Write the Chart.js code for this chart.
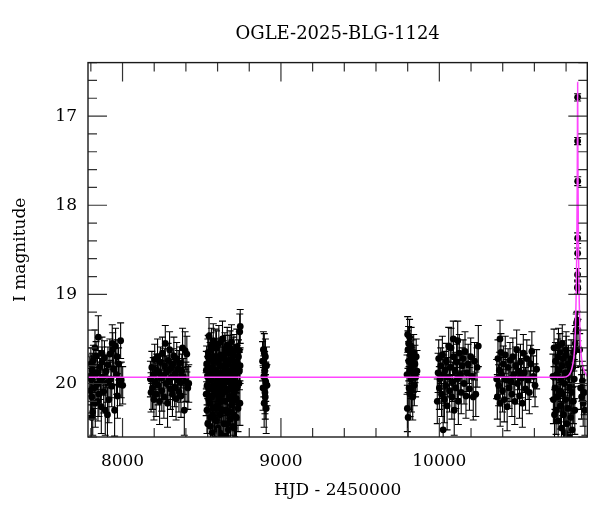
<!DOCTYPE html>
<html><head><meta charset="utf-8">
<script src="https://cdn.jsdelivr.net/npm/chart.js@4.4.0/dist/chart.umd.min.js"></script>
<style>html,body{margin:0;padding:0;background:#fff}#wrap{width:600px;height:512px}</style>
</head><body><div id="wrap"><canvas id="c" width="600" height="512"></canvas></div>
<script>
const titleText = 'OGLE-2025-BLG-1124';
const xAxisTitle = 'HJD - 2450000';
const yAxisTitle = 'I magnitude';
const xTickLabels = [8000, 9000, 10000];
const yTickLabels = [17, 18, 19, 20];
const xMinorTicks = [7800,8000,8200,8400,8600,8800,9000,9200,9400,9600,9800,10000,10200,10400,10600,10800];
const yMinorTicks = [16.4,16.6,16.8,17,17.2,17.4,17.6,17.8,18,18.2,18.4,18.6,18.8,19,19.2,19.4,19.6,19.8,20,20.2,20.4,20.6];
const xRange = [7782, 10934];
const yRange = [16.4, 20.6];

// [HJD-2450000, I mag, error]
const season1 = [[7793,19.92,0.22],[7797,20.08,0.25],[7800,19.78,0.18],[7803,19.96,0.28],[7805,20.38,0.28],[7806,20.15,0.21],[7809,19.85,0.19],[7812,20.32,0.26],[7816,19.74,0.17],[7820,20.05,0.23],[7824,19.90,0.20],[7826,19.60,0.20],[7828,20.22,0.27],[7833,19.69,0.16],[7838,20.01,0.22],[7842,19.88,0.19],[7845,20.20,0.22],[7847,19.48,0.24],[7851,20.12,0.25],[7856,19.81,0.18],[7861,19.97,0.21],[7866,20.26,0.30],[7870,19.66,0.18],[7871,19.76,0.17],[7876,19.93,0.20],[7881,20.09,0.24],[7886,19.71,0.19],[7891,20.30,0.28],[7897,19.86,0.18],[7902,19.99,0.22],[7905,20.35,0.30],[7908,19.79,0.20],[7914,20.18,0.26],[7920,19.67,0.17],[7926,19.95,0.21],[7932,20.03,0.23],[7935,19.55,0.21],[7938,19.62,0.19],[7944,19.84,0.18],[7950,20.30,0.29],[7956,19.58,0.20],[7962,19.90,0.22],[7965,19.70,0.19],[7968,20.14,0.25],[7975,19.78,0.18],[7983,20.01,0.24],[7988,19.52,0.20],[7992,19.96,0.20],[8001,20.02,0.21]];
const season2 = [[8176,19.95,0.20],[8180,20.10,0.22],[8185,19.82,0.18],[8189,20.05,0.24],[8194,19.90,0.19],[8198,20.18,0.23],[8203,19.73,0.17],[8207,19.98,0.21],[8212,20.12,0.25],[8216,19.85,0.18],[8221,19.70,0.20],[8225,20.02,0.22],[8230,19.88,0.19],[8234,20.20,0.26],[8239,19.76,0.17],[8243,19.94,0.20],[8248,20.08,0.23],[8252,19.66,0.18],[8257,19.91,0.21],[8261,20.15,0.24],[8266,19.80,0.19],[8270,19.55,0.20],[8275,20.00,0.22],[8279,19.87,0.18],[8284,20.22,0.27],[8288,19.74,0.19],[8293,19.97,0.21],[8297,19.62,0.20],[8302,20.06,0.23],[8306,19.83,0.18],[8311,19.93,0.20],[8315,20.12,0.25],[8320,19.78,0.17],[8324,19.69,0.21],[8329,20.04,0.22],[8333,19.89,0.19],[8338,20.17,0.24],[8342,19.72,0.18],[8347,19.96,0.20],[8351,19.84,0.21],[8356,20.09,0.23],[8360,19.77,0.18],[8365,19.99,0.22],[8369,20.14,0.24],[8374,19.86,0.19],[8379,19.60,0.22],[8384,19.92,0.20],[8390,20.30,0.28],[8395,19.63,0.21],[8400,19.98,0.22],[8406,19.67,0.20],[8412,20.05,0.24],[8418,20.00,0.21]];
const season3 = [[8528,20.12,0.24],[8531,19.78,0.20],[8533,20.30,0.26],[8536,19.92,0.22],[8538,20.45,0.28],[8541,19.65,0.19],[8543,20.05,0.23],[8546,19.47,0.21],[8548,19.88,0.20],[8551,20.22,0.25],[8553,19.73,0.19],[8556,20.38,0.27],[8558,19.96,0.22],[8561,19.58,0.20],[8563,20.15,0.24],[8566,20.55,0.30],[8568,19.82,0.21],[8571,20.02,0.22],[8573,19.52,0.19],[8576,20.28,0.26],[8578,19.90,0.21],[8581,20.62,0.30],[8583,19.70,0.20],[8586,20.10,0.23],[8588,19.85,0.22],[8591,20.42,0.28],[8593,19.60,0.19],[8596,19.98,0.22],[8598,20.25,0.25],[8601,19.76,0.20],[8603,20.50,0.29],[8606,19.93,0.21],[8608,19.55,0.20],[8611,20.18,0.24],[8613,19.80,0.21],[8616,20.35,0.27],[8618,20.05,0.22],[8621,19.68,0.19],[8623,20.58,0.30],[8626,19.88,0.21],[8628,20.12,0.24],[8631,19.50,0.20],[8633,20.30,0.26],[8636,19.95,0.22],[8638,19.72,0.20],[8641,20.45,0.28],[8643,20.00,0.22],[8646,19.62,0.19],[8648,20.20,0.25],[8651,19.84,0.21],[8653,20.60,0.30],[8656,19.90,0.22],[8658,20.08,0.23],[8661,19.57,0.20],[8663,20.33,0.27],[8666,19.78,0.21],[8668,20.52,0.29],[8671,19.97,0.22],[8673,19.66,0.20],[8676,20.15,0.24],[8678,19.86,0.21],[8681,20.40,0.27],[8683,19.74,0.20],[8686,20.03,0.22],[8688,19.53,0.19],[8691,20.24,0.25],[8693,19.92,0.21],[8696,20.48,0.28],[8698,19.81,0.20],[8701,20.10,0.23],[8703,19.64,0.19],[8706,20.36,0.27],[8708,19.99,0.22],[8711,19.76,0.20],[8713,20.62,0.30],[8716,19.89,0.21],[8718,20.17,0.24],[8721,19.59,0.20],[8723,20.05,0.22],[8726,19.83,0.21],[8729,20.28,0.26],[8732,19.70,0.19],[8735,20.00,0.22],[8738,19.86,0.21],[8741,20.22,0.25],[8743,19.36,0.19],[8740,19.42,0.20],[8737,19.63,0.21],[8742,19.80,0.20],
[8529,19.85,0.21],[8534,20.02,0.22],[8539,19.70,0.20],[8544,20.18,0.24],[8549,19.96,0.21],[8554,20.48,0.28],[8559,19.62,0.19],[8564,19.90,0.22],[8569,20.35,0.26],[8574,19.75,0.20],[8579,20.05,0.23],[8584,20.40,0.27],[8589,19.58,0.19],[8594,20.12,0.24],[8599,19.88,0.21],[8604,20.28,0.25],[8609,19.70,0.20],[8614,20.55,0.29],[8619,19.94,0.22],[8624,20.20,0.24],[8629,19.80,0.21],[8634,20.10,0.23],[8639,20.60,0.30],[8644,19.86,0.21],[8649,19.66,0.20],[8654,20.30,0.26],[8659,19.98,0.22],[8664,20.45,0.28],[8669,19.74,0.20],[8674,20.06,0.23],[8679,19.60,0.19],[8684,20.32,0.26],[8689,19.90,0.21],[8694,20.15,0.24],[8699,19.68,0.20],[8704,20.50,0.29],[8709,19.84,0.21],[8714,20.02,0.22],[8719,20.38,0.27],[8724,19.77,0.20]];
const season4 = [[8884,19.75,0.22],[8887,20.05,0.25],[8889,19.62,0.20],[8892,19.92,0.23],[8894,20.22,0.27],[8895,19.66,0.22],[8897,19.85,0.21],[8899,20.10,0.24],[8901,20.15,0.25],[8902,19.70,0.20],[8904,19.98,0.22],[8907,20.28,0.28],[8909,19.80,0.21],[8912,20.02,0.23]];
const season5 = [[9796,19.90,0.22],[9798,20.28,0.26],[9800,19.45,0.20],[9802,19.62,0.21],[9803,20.38,0.28],[9806,19.55,0.19],[9807,19.75,0.22],[9809,20.05,0.24],[9812,19.48,0.20],[9813,19.85,0.21],[9815,20.12,0.25],[9817,19.68,0.20],[9820,19.95,0.22],[9822,19.58,0.21],[9824,20.08,0.24],[9826,19.80,0.20],[9829,19.72,0.21],[9832,20.15,0.26],[9835,19.88,0.22],[9838,19.65,0.20],[9842,20.02,0.23],[9846,19.78,0.21],[9850,19.93,0.22],[9854,19.70,0.20],[9859,19.86,0.23]];
const season6 = [[9987,20.20,0.25],[9992,19.88,0.22],[9996,19.72,0.21],[10000,20.05,0.24],[10004,19.95,0.22],[10009,19.80,0.20],[10014,20.12,0.25],[10019,19.68,0.21],[10024,20.52,0.30],[10028,19.90,0.22],[10032,20.18,0.26],[10036,19.85,0.21],[10040,20.02,0.23],[10044,19.75,0.20],[10049,20.25,0.27],[10054,19.93,0.22],[10059,19.58,0.21],[10064,20.08,0.24],[10069,19.82,0.20],[10074,19.60,0.22],[10079,20.15,0.25],[10084,19.98,0.22],[10088,19.50,0.20],[10089,19.70,0.21],[10094,20.30,0.28],[10099,19.86,0.21],[10104,20.05,0.23],[10109,19.76,0.20],[10114,19.95,0.22],[10116,19.52,0.22],[10120,20.20,0.26],[10126,19.66,0.21],[10132,19.90,0.22],[10138,20.10,0.24],[10144,19.80,0.20],[10150,19.72,0.21],[10156,20.00,0.23],[10162,19.64,0.22],[10168,20.14,0.25],[10174,19.88,0.21],[10182,19.78,0.22],[10190,20.06,0.24],[10198,19.70,0.21],[10206,19.92,0.22],[10214,20.15,0.26],[10222,19.75,0.21],[10230,20.12,0.25],[10238,19.82,0.22],[10246,19.58,0.23]];
const season7 = [[10362,19.95,0.22],[10366,20.15,0.25],[10370,19.72,0.21],[10374,20.02,0.23],[10379,19.85,0.20],[10383,19.50,0.21],[10384,20.22,0.26],[10389,19.65,0.21],[10394,19.90,0.22],[10399,20.08,0.24],[10404,19.78,0.20],[10410,20.18,0.25],[10416,19.68,0.21],[10422,19.95,0.22],[10428,20.26,0.27],[10434,19.82,0.21],[10440,20.05,0.23],[10446,19.74,0.20],[10452,19.98,0.22],[10458,20.12,0.25],[10464,19.70,0.21],[10470,19.90,0.22],[10476,20.20,0.26],[10482,19.80,0.21],[10488,19.62,0.22],[10494,20.00,0.23],[10500,19.86,0.21],[10506,20.14,0.25],[10512,19.76,0.20],[10518,19.94,0.22],[10524,20.22,0.27],[10530,19.66,0.21],[10536,19.88,0.22],[10544,20.06,0.24],[10552,19.72,0.21],[10560,19.96,0.22],[10568,20.10,0.24],[10576,19.78,0.21],[10584,19.64,0.22],[10594,19.92,0.23],[10604,20.02,0.24],[10614,19.84,0.22]];
const season8 = [[10717,19.92,0.25],[10720,20.18,0.27],[10724,19.60,0.21],[10727,20.35,0.28],[10730,20.05,0.24],[10733,19.75,0.21],[10737,20.30,0.27],[10740,19.90,0.22],[10744,20.15,0.25],[10747,19.70,0.20],[10750,20.42,0.29],[10752,19.58,0.20],[10754,19.85,0.22],[10757,20.08,0.24],[10761,19.65,0.21],[10764,20.25,0.26],[10767,19.95,0.22],[10771,20.50,0.30],[10774,19.80,0.21],[10776,19.55,0.21],[10778,20.12,0.24],[10781,19.72,0.20],[10784,20.35,0.28],[10788,20.00,0.23],[10791,20.55,0.30],[10795,19.88,0.22],[10798,20.18,0.25],[10800,19.62,0.20],[10801,19.68,0.21],[10805,20.45,0.29],[10808,19.92,0.22],[10812,20.28,0.27],[10815,19.78,0.21],[10818,20.60,0.30],[10822,20.05,0.23],[10825,19.85,0.22],[10829,20.38,0.28],[10832,19.72,0.21],[10835,20.10,0.24],[10839,20.52,0.30],[10842,19.82,0.22],[10846,20.20,0.25],[10849,19.65,0.21],[10852,19.95,0.22],[10855,20.30,0.27],[10858,19.55,0.20],[10861,19.62,0.20],[10864,19.40,0.18],[10866,19.32,0.12]];
const peakPoints = [[10871,19.29,0.10],[10872,18.92,0.08],[10872.5,18.78,0.07],[10873,18.54,0.06],[10873,18.37,0.06],[10873.5,17.73,0.05],[10873,17.28,0.04],[10873,16.79,0.04],[10874,18.93,0.07],[10875,19.40,0.12]];
const season8after = [[10886,19.62,0.18],[10892,20.05,0.24],[10898,20.15,0.25],[10903,19.97,0.22],[10908,20.22,0.26],[10914,20.10,0.25],[10919,20.30,0.28]];

// model light curve
const modelHjd = [7782,10780,10815,10838,10853,10858,10863,10867.5,10870.3,10871.8,10873,10874.2,10875.7,10878.5,10883,10888,10893,10908,10931,10934];
const modelMag = [19.93,19.93,19.91,19.82,19.63,19.44,19.07,18.51,17.8,17.15,16.62,17.15,17.8,18.51,19.07,19.44,19.63,19.82,19.91,19.92];

const photometry = [].concat(season1, season2, season3, season4, season5, season6, season7, season8, peakPoints, season8after);

const serif = 'DejaVu Serif';

const errorBars = {
  id: 'errorBars',
  beforeDatasetsDraw(chart) {
    const {ctx, chartArea: a, scales: {x, y}} = chart;
    ctx.save();
    ctx.beginPath(); ctx.rect(a.left, a.top, a.right - a.left, a.bottom - a.top); ctx.clip();
    ctx.lineWidth = 1.1;
    ctx.strokeStyle = '#000';
    for (const p of photometry) {
      const px = x.getPixelForValue(p[0]);
      const y1 = y.getPixelForValue(p[1] - p[2]);
      const y2 = y.getPixelForValue(p[1] + p[2]);
      ctx.beginPath();
      ctx.moveTo(px, y1); ctx.lineTo(px, y2);
      ctx.moveTo(px - 3.5, y1); ctx.lineTo(px + 3.5, y1);
      ctx.moveTo(px - 3.5, y2); ctx.lineTo(px + 3.5, y2);
      ctx.stroke();
    }
    ctx.restore();
  }
};

const frameTicks = {
  id: 'frameTicks',
  afterDraw(chart) {
    const {ctx, chartArea: a, scales: {x, y}} = chart;
    ctx.save();
    ctx.strokeStyle = '#333';
    ctx.lineWidth = 1.2;
    ctx.beginPath();
    for (const v of xMinorTicks) {
      const px = x.getPixelForValue(v);
      const len = (v % 1000 === 0) ? 19 : 9;
      ctx.moveTo(px, a.top); ctx.lineTo(px, a.top + len);
      ctx.moveTo(px, a.bottom); ctx.lineTo(px, a.bottom - len);
    }
    for (const v of yMinorTicks) {
      const py = y.getPixelForValue(v);
      const len = (Math.abs(v - Math.round(v)) < 1e-6) ? 19 : 9;
      ctx.moveTo(a.left, py); ctx.lineTo(a.left + len, py);
      ctx.moveTo(a.right, py); ctx.lineTo(a.right - len, py);
    }
    ctx.stroke();
    ctx.strokeStyle = '#1a1a1a';
    ctx.lineWidth = 1.4;
    ctx.strokeRect(a.left, a.top, a.right - a.left, a.bottom - a.top);
    ctx.restore();
  }
};

new Chart(document.getElementById('c'), {
  type: 'scatter',
  data: {
    datasets: [
      {
        label: 'model',
        data: modelHjd.map((h, i) => ({x: h, y: modelMag[i]})),
        showLine: true,
        borderColor: '#ff45ff',
        borderWidth: 1.5,
        pointRadius: 0,
        cubicInterpolationMode: 'monotone',
        clip: 0
      },
      {
        label: 'OGLE I',
        data: photometry.map(p => ({x: p[0], y: p[1]})),
        pointRadius: 3.4,
        pointBackgroundColor: '#000',
        pointBorderColor: '#000',
        pointBorderWidth: 0,
        showLine: false,
        clip: 0
      }
    ]
  },
  options: {
    responsive: false,
    animation: false,
    devicePixelRatio: 1,
    layout: {padding: {left: 0, right: 12.7, top: 0, bottom: 0}},
    plugins: {
      legend: {display: false},
      tooltip: {enabled: false},
      title: {
        display: true, text: titleText, fullSize: false, color: '#000',
        font: {family: serif, size: 18, weight: 'normal'},
        padding: {top: 24, bottom: 17}
      }
    },
    scales: {
      x: {
        type: 'linear', min: xRange[0], max: xRange[1],
        afterFit(s) { s.height = 75; },
        afterBuildTicks(s) { s.ticks = xTickLabels.map(v => ({value: v})); },
        grid: {display: false, drawTicks: false},
        border: {display: false},
        ticks: {color: '#000', font: {family: serif, size: 17}, padding: 14, maxRotation: 0, autoSkip: false, callback: v => String(v)},
        title: {display: true, text: xAxisTitle, color: '#000', font: {family: serif, size: 17}, padding: {top: 0, bottom: 11}}
      },
      y: {
        type: 'linear', reverse: true, min: yRange[0], max: yRange[1],
        afterFit(s) { s.width = 88; },
        afterBuildTicks(s) { s.ticks = yTickLabels.map(v => ({value: v})); },
        grid: {display: false, drawTicks: false},
        border: {display: false},
        ticks: {color: '#000', font: {family: serif, size: 17}, padding: 11, autoSkip: false, callback: v => String(v)},
        title: {display: true, text: yAxisTitle, color: '#000', font: {family: serif, size: 17}, padding: {top: 10, bottom: 0}}
      }
    }
  },
  plugins: [errorBars, frameTicks]
});
</script>
</body></html>
